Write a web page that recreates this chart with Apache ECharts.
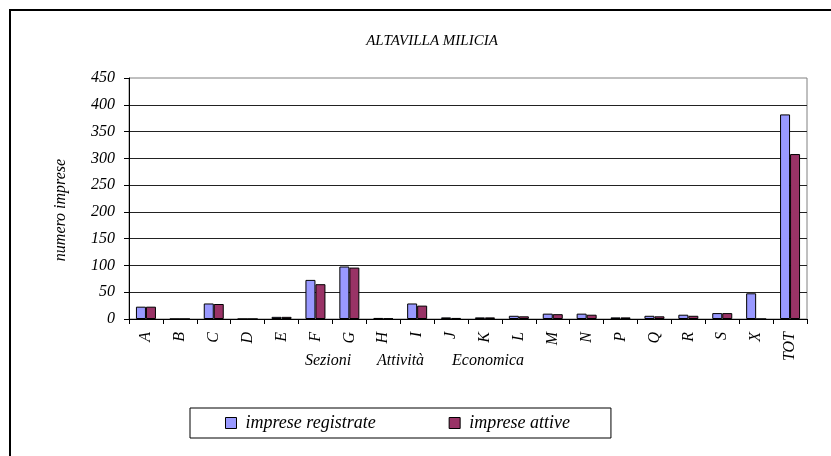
<!DOCTYPE html>
<html>
<head>
<meta charset="utf-8">
<script src="https://cdn.jsdelivr.net/npm/echarts@6/dist/echarts.min.js"></script>
<style>
  html, body { margin: 0; padding: 0; background: #fff; }
  #chart { width: 831px; height: 456px; }
</style>
</head>
<body>
<div id="chart"></div>
<script>
// sezioni di attività economica
var categories = ["A", "B", "C", "D", "E", "F", "G", "H", "I", "J", "K", "L", "M", "N", "P", "Q", "R", "S", "X", "TOT"];
var registrate = [23, 0, 29, 0, 4, 73, 98, 2, 29, 3, 3, 6, 10, 10, 3, 6, 8, 11, 48, 382];
var attive = [23, 0, 28, 0, 4, 65, 96, 1, 25, 2, 3, 5, 9, 8, 3, 5, 6, 11, 0, 308];
var yTicks = { min: 0, max: 450, interval: 50 };

var FONT = "italic 16px 'Liberation Serif', 'Times New Roman', serif";
var textStyle = { fontFamily: "'Liberation Serif', 'Times New Roman', serif", fontStyle: "italic", color: "#000" };

var chart = echarts.init(document.getElementById("chart"));

var option = {
  animation: false,
  backgroundColor: "#fff",
  grid: {
    left: 129,
    right: 24,
    top: 78,
    bottom: 137,
    show: true,
    borderColor: "#808080",
    borderWidth: 1
  },
  // titolo e nomi degli assi come testo libero
  graphic: [
    {
      type: "rect",
      shape: { x: 10, y: 10, width: 900, height: 500 },
      style: { fill: null, stroke: "#000", lineWidth: 2 },
      silent: true
    },
    {
      type: "text",
      x: 432, y: 41,
      style: { text: "ALTAVILLA MILICIA", font: "italic 15px 'Liberation Serif', serif", fill: "#000", align: "center", verticalAlign: "middle" }
    },
    {
      type: "text",
      x: 61, y: 210,
      rotation: Math.PI / 2,
      style: { text: "numero imprese", font: FONT, fill: "#000", align: "center", verticalAlign: "middle" }
    },
    {
      type: "text",
      x: 305, y: 361,
      style: { text: "Sezioni", font: FONT, fill: "#000", align: "left", verticalAlign: "middle" }
    },
    {
      type: "text",
      x: 377, y: 361,
      style: { text: "Attività", font: FONT, fill: "#000", align: "left", verticalAlign: "middle" }
    },
    {
      type: "text",
      x: 452, y: 361,
      style: { text: "Economica", font: FONT, fill: "#000", align: "left", verticalAlign: "middle" }
    }
  ],
  legend: {
    left: 190,
    top: 408,
    padding: [6, 41, 6, 35],
    itemGap: 73,
    itemWidth: 11,
    itemHeight: 11,
    borderColor: "#000",
    borderWidth: 1,
    textStyle: Object.assign({}, textStyle, { fontSize: 18, padding: [0, 0, 0, 4] }),
    data: [
      { name: "imprese registrate", icon: "rect", itemStyle: { borderColor: "#000", borderWidth: 1 } },
      { name: "imprese attive", icon: "rect", itemStyle: { borderColor: "#000", borderWidth: 1 } }
    ]
  },
  xAxis: {
    type: "category",
    data: categories,
    boundaryGap: true,
    axisLine: { lineStyle: { color: "#000", width: 1 } },
    axisTick: { show: true, length: 5, lineStyle: { color: "#000" } },
    axisLabel: Object.assign({}, textStyle, { fontSize: 16, rotate: 90, margin: 13, interval: 0 })
  },
  yAxis: {
    type: "value",
    min: yTicks.min,
    max: yTicks.max,
    interval: yTicks.interval,
    axisLine: { show: true, lineStyle: { color: "#000", width: 1 } },
    axisTick: { show: true, length: 5, lineStyle: { color: "#000" } },
    axisLabel: Object.assign({}, textStyle, { fontSize: 16, margin: 14 }),
    splitLine: { show: true, showMaxLine: false, lineStyle: { color: "#222", width: 1 } }
  },
  series: [
    {
      name: "imprese registrate",
      type: "bar",
      data: registrate,
      barWidth: 10,
      barGap: "0%",
      itemStyle: { color: "#9999FF", borderColor: "#000", borderWidth: 1 }
    },
    {
      name: "imprese attive",
      type: "bar",
      data: attive,
      barWidth: 10,
      barGap: "0%",
      itemStyle: { color: "#993366", borderColor: "#000", borderWidth: 1 }
    }
  ]
};

chart.setOption(option);
</script>
</body>
</html>
